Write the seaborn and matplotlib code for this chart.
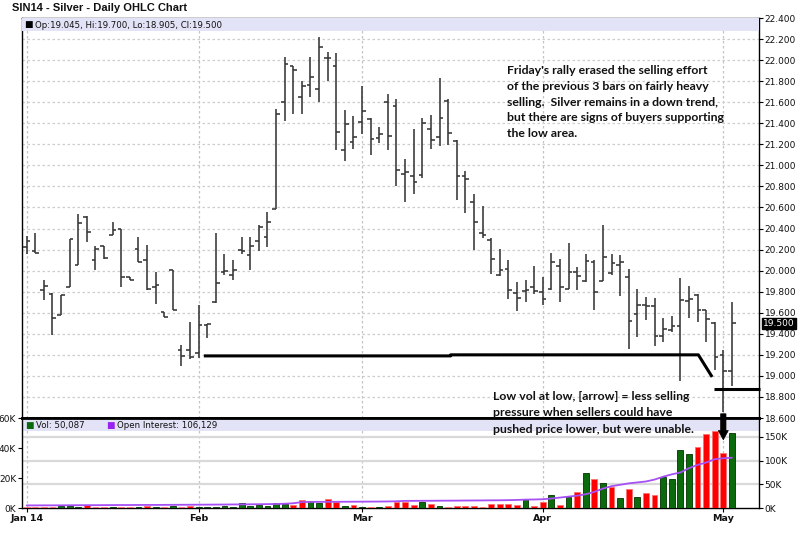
import numpy as np
import pandas as pd
import matplotlib
matplotlib.use("Agg")
import matplotlib.pyplot as plt
import matplotlib.transforms as mtransforms
from matplotlib.patches import Rectangle
import seaborn as sns

# ---------------- data ----------------
opens = [20.22, 20.19, 19.82, 19.78, 19.58, 19.84, 20.05, 20.51, 20.10, 20.23,
         20.34, 20.40, 19.94, 20.21, 20.10, 19.84, 19.61, 20.01, 19.25, 19.25,
         19.22, 19.48, 19.70, 19.99, 19.96, 20.20, 20.15, 20.28, 20.32, 20.59,
         21.60, 21.94, 21.65, 21.76, 21.73, 22.02, 21.94, 21.15, 21.22, 21.41,
         21.44, 21.26, 21.60, 21.56, 20.92, 20.90, 20.91, 21.35, 21.27, 21.61,
         21.23, 20.90, 20.65, 20.36, 20.29, 19.96, 20.02, 19.79, 19.81, 19.84,
         19.80, 19.83, 20.04, 19.83, 19.99, 19.90, 20.08, 19.90, 19.98, 20.05,
         19.94, 19.59, 19.67, 19.66, 19.38, 19.44, 19.47, 19.71, 19.77, 19.63,
         19.50, 19.20, 19.045]
highs = [20.33, 20.36, 19.91, 19.79, 19.77, 20.30, 20.54, 20.52, 20.23, 20.23,
         20.46, 20.40, 19.94, 20.32, 20.24, 19.99, 19.61, 20.01, 19.29, 19.51,
         19.67, 19.49, 20.36, 20.16, 20.10, 20.32, 20.32, 20.43, 20.56, 21.54,
         22.03, 21.94, 21.80, 22.03, 22.22, 22.08, 22.07, 21.53, 21.47, 21.75,
         21.45, 21.36, 21.68, 21.63, 21.06, 21.35, 21.45, 21.48, 21.83, 21.63,
         21.24, 20.95, 20.73, 20.61, 20.31, 20.21, 20.10, 19.89, 19.91, 20.04,
         19.94, 20.17, 20.11, 20.26, 20.03, 20.16, 20.10, 20.43, 20.16, 20.15,
         20.02, 19.83, 19.75, 19.74, 19.55, 19.57, 19.93, 19.85, 19.78, 19.63,
         19.51, 19.25, 19.70]
lows = [20.16, 20.17, 19.72, 19.39, 19.58, 19.84, 20.05, 20.27, 20.01, 20.11,
        20.34, 19.84, 19.91, 20.08, 19.82, 19.68, 19.56, 19.63, 19.09, 19.16,
        19.17, 19.36, 19.69, 19.96, 19.91, 20.16, 20.01, 20.19, 20.22, 20.59,
        21.42, 21.49, 21.49, 21.65, 21.60, 21.80, 21.15, 21.04, 21.16, 21.30,
        21.10, 21.21, 21.15, 20.80, 20.65, 20.73, 20.88, 21.16, 21.18, 21.19,
        20.67, 20.55, 20.20, 20.31, 19.97, 19.95, 19.73, 19.62, 19.70, 19.78,
        19.67, 19.82, 19.70, 19.83, 19.82, 19.89, 19.63, 19.90, 19.96, 19.76,
        19.26, 19.37, 19.53, 19.28, 19.32, 19.42, 18.95, 19.55, 19.51, 19.32,
        19.06, 18.66, 18.905]
closes = [20.28, 20.17, 19.85, 19.55, 19.77, 20.30, 20.45, 20.37, 20.21, 20.12,
          20.39, 19.94, 19.91, 20.08, 19.83, 19.86, 19.56, 19.63, 19.19, 19.18,
          19.48, 19.49, 19.88, 20.00, 20.01, 20.19, 20.23, 20.41, 20.46, 21.49,
          21.96, 21.91, 21.75, 21.84, 22.12, 22.02, 21.32, 21.39, 21.27, 21.52,
          21.25, 21.30, 21.28, 20.96, 20.94, 20.84, 21.40, 21.24, 21.45, 21.31,
          20.90, 20.87, 20.46, 20.34, 20.11, 20.01, 19.82, 19.74, 19.82, 19.81,
          19.73, 20.08, 19.84, 19.99, 19.95, 20.09, 19.80, 20.13, 20.07, 20.08,
          19.52, 19.67, 19.66, 19.38, 19.45, 19.47, 19.72, 19.73, 19.63, 19.54,
          19.18, 19.05, 19.50]
volume_k = [0.4, 0.9, 1.0, 1.0, 1.3, 1.3, 0.8, 2.3, 0.8, 0.7,
            0.6, 0.8, 0.8, 0.7, 1.2, 0.5, 0.7, 1.2, 0.5, 1.3,
            0.6, 0.5, 0.5, 1.3, 0.7, 3.6, 1.3, 2.3, 1.3, 3.6,
            2.5, 1.8, 5.6, 5.0, 3.6, 6.1, 4.3, 1.6, 2.0, 0.7,
            1.0, 0.6, 1.3, 4.0, 4.1, 1.8, 3.8, 2.5, 1.1, 0.7,
            1.6, 1.1, 1.1, 0.9, 2.9, 2.9, 2.9, 1.8, 5.7, 1.4,
            3.8, 8.6, 1.8, 7.5, 10.4, 23.3, 19.4, 16.5, 14.2, 6.8,
            12.4, 7.5, 9.7, 8.6, 20.6, 19.4, 38.6, 35.7, 40.9, 49.3,
            51.1, 36.8, 50.087]
open_interest_k = [5.5, 5.5, 5.6, 5.6, 5.7, 5.8, 5.9, 6.0, 6.0, 6.1,
                   6.2, 6.3, 6.3, 6.4, 6.5, 6.5, 6.6, 6.7, 6.8, 6.9,
                   7.0, 7.1, 7.2, 7.3, 7.5, 7.6, 7.8, 8.0, 8.2, 8.5,
                   9.0, 10.0, 12.5, 12.8, 13.0, 13.0, 13.1, 13.2, 13.3, 13.4,
                   13.5, 13.6, 13.8, 14.2, 15.0, 15.1, 15.2, 15.3, 15.4, 15.5,
                   15.6, 15.8, 15.9, 16.0, 16.2, 16.3, 16.6, 17.0, 17.7, 18.0,
                   18.5, 20.0, 22.0, 24.0, 26.0, 29.0, 34.0, 41.0, 46.0, 49.0,
                   52.0, 54.0, 56.0, 60.0, 66.0, 71.0, 75.0, 84.0, 91.0, 96.0,
                   103.0, 105.0, 106.129]
month_labels = ["Jan 14", "Feb", "Mar", "Apr", "May"]
month_bar_index = [0, 20, 39, 60, 81]
price_ticks = [18.6, 18.8, 19.0, 19.2, 19.4, 19.6, 19.8, 20.0, 20.2, 20.4,
               20.6, 20.8, 21.0, 21.2, 21.4, 21.6, 21.8, 22.0, 22.2, 22.4]
vol_ticks_k = [0, 20, 40, 60]
oi_ticks_k = [0, 50, 100, 150]
support_x = [20.6, 49.3, 49.3, 78.1, 79.7]
support_y = [19.19, 19.19, 19.20, 19.20, 18.99]
floor_x = [79.9, 85.3]
floor_y = [18.88, 18.88]
arrow_bar = 81

title = "SIN14 - Silver - Daily OHLC Chart"
note_top = ("Friday's rally erased the selling effort\n"
            "of the previous 3 bars on fairly heavy\n"
            "selling.  Silver remains in a down trend,\n"
            "but there are signs of buyers supporting\n"
            "the low area.")
note_bottom = ("Low vol at low, [arrow] = less selling\n"
               "pressure when sellers could have\n"
               "pushed price lower, but were unable.")

# ---------------- styling ----------------
sns.set_theme(style="white")
plt.rcParams['font.family'] = ['DejaVu Sans']

n = len(closes)
idx = np.arange(n)
direction = ['down'] + ['up' if closes[i] > closes[i - 1] else 'down' for i in range(1, n)]
df = pd.DataFrame({'idx': idx, 'open': opens, 'high': highs, 'low': lows,
                   'close': closes, 'vol': volume_k, 'oi': open_interest_k,
                   'dir': direction})

W, H = 800, 544
fig = plt.figure(figsize=(W / 100, H / 100), dpi=100)
fig.patch.set_facecolor('white')
x_left, x_right = 21.7, 759.0
ax = fig.add_axes([x_left / W, 1 - 418 / H, (x_right - x_left) / W, 400 / H])
axv = fig.add_axes([x_left / W, 1 - 508 / H, (x_right - x_left) / W, 90 / H], sharex=ax)

# ---------------- price panel ----------------
bar_color = '#363636'
ax.vlines(df['idx'], df['low'], df['high'], color=bar_color, lw=1.15, zorder=4)
ax.hlines(df['open'], df['idx'] - 0.42, df['idx'], color=bar_color, lw=1.15, zorder=4)
ax.hlines(df['close'], df['idx'], df['idx'] + 0.42, color=bar_color, lw=1.15, zorder=4)

ax.set_xlim(-0.58, 85.15)
ax.set_ylim(price_ticks[0], price_ticks[-1])
ax.set_yticks(price_ticks)
ax.set_yticklabels([f"{v:.3f}" for v in price_ticks])
ax.yaxis.tick_right()
ax.tick_params(axis='y', which='both', right=True, left=False, direction='out',
               length=3, width=0.8, color='black', pad=1, labelsize=6.5,
               labelcolor='#111111')
ax.set_xticks(month_bar_index)
ax.tick_params(axis='x', labelbottom=False, bottom=False, length=0)
ax.grid(axis='y', color='#cdcdcd', ls=(0, (2, 2)), lw=0.9, zorder=0)
ax.grid(axis='x', color='#c4c4c4', ls=(0, (2, 2)), lw=0.9, zorder=0)
for s in ax.spines.values():
    s.set_color('black')
    s.set_linewidth(1.0)
ax.spines['bottom'].set_linewidth(2.0)

# support lines (annotations)
ax.plot(support_x, support_y, color='black', lw=2.2, zorder=6, solid_capstyle='butt')
ax.plot(floor_x, floor_y, color='black', lw=2.2, zorder=6, solid_capstyle='butt',
        clip_on=False)

# legend band in price panel
band_c = '#e3e3f7'
ax.add_patch(Rectangle((0, (418 - 31) / 400), 1, 13 / 400, transform=ax.transAxes,
                       fc=band_c, ec='none', zorder=3))
ax.text((24.5 - x_left) / 737.3, (418 - 25) / 400, '■', transform=ax.transAxes,
        fontsize=6.5, va='center', ha='left', color='black', zorder=5)
ax.text((35 - x_left) / 737.3, (418 - 25) / 400,
        f"Op:{opens[-1]:.3f}, Hi:{highs[-1]:.3f}, Lo:{lows[-1]:.3f}, Cl:{closes[-1]:.3f}",
        transform=ax.transAxes, fontsize=6.2, va='center', ha='left', color='#111111',
        zorder=5)

# last price box
ax.annotate(f"{closes[-1]:.3f}", xy=(1, closes[-1]), xycoords=('axes fraction', 'data'),
            xytext=(3, 0), textcoords='offset points', va='center', ha='left',
            color='white', fontsize=6.5,
            bbox=dict(boxstyle='square,pad=0.12', fc='black', ec='black'),
            annotation_clip=False, zorder=10)

# ---------------- volume panel ----------------
pal = {'up': '#0b6a0b', 'down': '#ff0000'}
sns.barplot(data=df, x='idx', y='vol', hue='dir', palette=pal, native_scale=True,
            dodge=False, width=0.67, legend=False, errorbar=None, saturation=1,
            ax=axv, zorder=3)
for p in axv.patches:
    fc = p.get_facecolor()
    if fc[0] > 0.5:
        p.set_edgecolor('#ff7070')
    else:
        p.set_edgecolor('#003300')
    p.set_linewidth(0.6)

axv.set_ylim(0, 60)
axv.set_yticks(vol_ticks_k)
axv.set_yticklabels([f"{v}K" for v in vol_ticks_k])
axv.set_xlabel('')
axv.set_ylabel('')
axv.tick_params(axis='y', left=True, right=False, direction='out', length=3,
                width=0.8, color='black', pad=1, labelsize=6.5, labelcolor='#111111')
axv.set_xticks(month_bar_index)
axv.set_xticklabels(month_labels, fontweight='bold', fontsize=6.8)
axv.tick_params(axis='x', bottom=True, direction='out', length=3, width=0.8,
                color='black', pad=1.5, labelcolor='#111111')
axv.grid(axis='x', color='#c4c4c4', ls=(0, (2, 2)), lw=0.9, zorder=0)
axv.grid(axis='y', visible=False)
for s in axv.spines.values():
    s.set_color('black')
    s.set_linewidth(1.0)
axv.spines['top'].set_linewidth(2.0)

axo = axv.twinx()
sns.lineplot(data=df, x='idx', y='oi', ax=axo, color='#a650f5', lw=1.3, zorder=5)
axo.set_ylim(0, 190)
axo.set_yticks(oi_ticks_k)
axo.set_yticklabels([f"{v}K" for v in oi_ticks_k])
axo.set_ylabel('')
axo.set_xlabel('')
axo.tick_params(axis='y', right=True, direction='out', length=3, width=0.8,
                color='black', pad=1, labelsize=6.5, labelcolor='#111111')
axo.grid(False)
for s in axo.spines.values():
    s.set_visible(False)

# horizontal gridlines of the open interest scale, drawn under the bars
gtrans = mtransforms.blended_transform_factory(axv.transAxes, axo.transData)
for v in oi_ticks_k[1:]:
    axv.plot([0, 1], [v, v], transform=gtrans, color='#d9d9d9', lw=1.6, zorder=1)
axv.set_ylim(0, 60)
axv.set_xlim(-0.58, 85.15)

# legend band in volume panel
axv.add_patch(Rectangle((0, 1 - 13 / 90), 1, 12 / 90, transform=axv.transAxes,
                        fc=band_c, ec='none', zorder=2))
yb = 1 - 7.5 / 90
axv.text((25.5 - x_left) / 737.3, yb, '■', transform=axv.transAxes, fontsize=6.5,
         va='center', ha='left', color='#0b6a0b', zorder=6)
axv.text((36 - x_left) / 737.3, yb, f"Vol: {int(round(volume_k[-1] * 1000)):,}",
         transform=axv.transAxes, fontsize=6.2, va='center', ha='left', color='#111111',
         zorder=6)
axv.text((106.5 - x_left) / 737.3, yb, '■', transform=axv.transAxes, fontsize=6.5,
         va='center', ha='left', color='#9a22f0', zorder=6)
axv.text((117 - x_left) / 737.3, yb,
         f"Open Interest: {int(round(open_interest_k[-1] * 1000)):,}",
         transform=axv.transAxes, fontsize=6.2, va='center', ha='left', color='#111111',
         zorder=6)

# arrow pointing at the low-volume bar
axv.annotate('', xy=(arrow_bar, 45.5), xycoords=axv.transData,
             xytext=(arrow_bar, 18.64), textcoords=ax.transData,
             arrowprops=dict(arrowstyle='simple,head_length=0.55,head_width=0.6,tail_width=0.32',
                             fc='black', ec='black', lw=0.5, shrinkA=0, shrinkB=0),
             annotation_clip=False, zorder=12)

# ---------------- texts ----------------
fig.text(12 / W, 1 - 8 / H, title, fontsize=8, fontweight='bold', va='center',
         ha='left', color='#111111', family=['Liberation Sans', 'DejaVu Sans'])
fig.text(507 / W, 1 - 65 / H, note_top, fontsize=8.8, fontweight='bold', va='top',
         ha='left', color='#111111', linespacing=1.53, family=['Lato', 'DejaVu Sans'],
         zorder=20)
fig.text(493 / W, 1 - 391 / H, note_bottom, fontsize=8.8, fontweight='bold', va='top',
         ha='left', color='#111111', linespacing=1.6, family=['Lato', 'DejaVu Sans'],
         zorder=20)

fig.savefig('out.png', dpi=100, facecolor='white')
